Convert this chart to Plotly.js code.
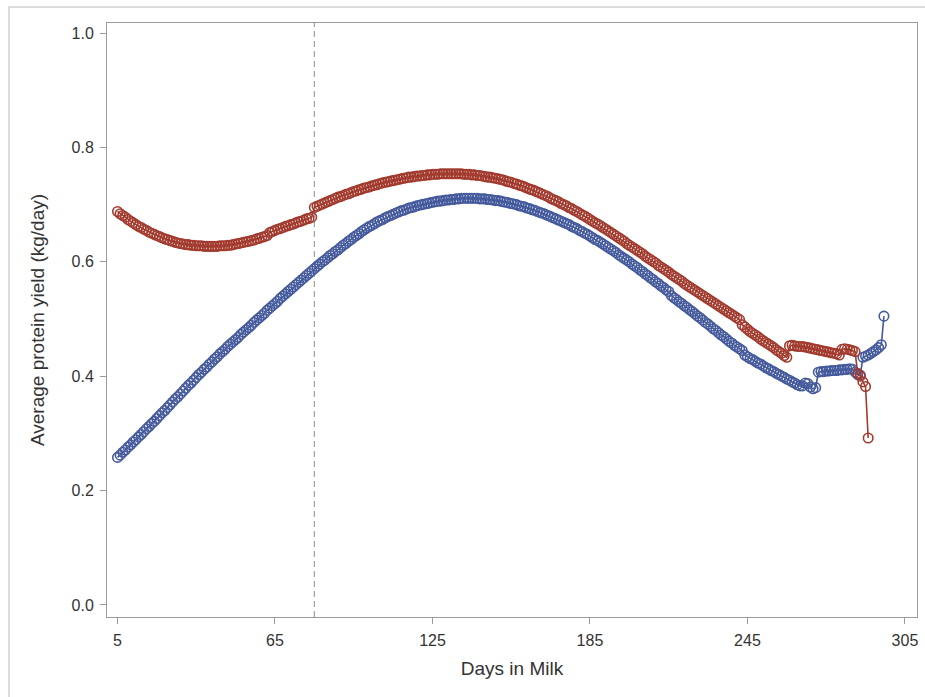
<!DOCTYPE html>
<html>
<head>
<meta charset="utf-8">
<script src="https://cdn.plot.ly/plotly-3.0.1.min.js"></script>
<style>
  html, body { margin: 0; padding: 0; background: #ffffff; }
  #frame {
    position: absolute; left: 8px; top: 6px;
    width: 1000px; height: 1000px;
    border: 2px solid #dcdcdc; box-sizing: border-box;
  }
  #chart { position: absolute; left: 0; top: 0; width: 925px; height: 697px; }
</style>
</head>
<body>
<div id="frame"></div>
<div id="chart"></div>
<script>
// Average protein yield per day in milk, two groups, one value per day.
const firstDayBlue = 5;
const blueYield = [
  0.258, 0.262, 0.267, 0.271, 0.276, 0.280,
  0.285, 0.289, 0.294, 0.298, 0.303,
  0.308, 0.312, 0.317, 0.321, 0.326,
  0.331, 0.336, 0.340, 0.345, 0.350,
  0.355, 0.360, 0.364, 0.369, 0.374,
  0.379, 0.384, 0.388, 0.393, 0.398,
  0.403, 0.407, 0.412, 0.416, 0.421,
  0.425, 0.430, 0.434, 0.439, 0.443,
  0.447, 0.452, 0.456, 0.460, 0.464,
  0.468, 0.473, 0.477, 0.481, 0.485,
  0.489, 0.494, 0.498, 0.502, 0.506,
  0.510, 0.515, 0.519, 0.523, 0.527,
  0.531, 0.536, 0.540, 0.544, 0.548,
  0.552, 0.556, 0.560, 0.564, 0.568,
  0.572, 0.576, 0.580, 0.584, 0.588,
  0.592, 0.596, 0.600, 0.603, 0.607,
  0.611, 0.614, 0.618, 0.621, 0.625,
  0.629, 0.632, 0.636, 0.639, 0.643,
  0.646, 0.649, 0.653, 0.656, 0.659,
  0.662, 0.664, 0.667, 0.670, 0.672,
  0.674, 0.677, 0.679, 0.681, 0.683,
  0.685, 0.687, 0.689, 0.690, 0.692,
  0.694, 0.695, 0.696, 0.698, 0.699,
  0.700, 0.701, 0.702, 0.703, 0.704,
  0.705, 0.706, 0.706, 0.707, 0.708,
  0.708, 0.709, 0.709, 0.710, 0.710,
  0.711, 0.711, 0.711, 0.711, 0.711,
  0.711, 0.711, 0.710, 0.710, 0.710,
  0.709, 0.709, 0.708, 0.707, 0.707,
  0.706, 0.705, 0.704, 0.703, 0.702,
  0.701, 0.700, 0.698, 0.697, 0.696,
  0.694, 0.693, 0.691, 0.690, 0.688,
  0.686, 0.685, 0.683, 0.681, 0.679,
  0.677, 0.675, 0.673, 0.671, 0.669,
  0.667, 0.665, 0.662, 0.660, 0.658,
  0.655, 0.653, 0.650, 0.648, 0.645,
  0.642, 0.639, 0.637, 0.634, 0.631,
  0.628, 0.625, 0.622, 0.619, 0.616,
  0.612, 0.609, 0.606, 0.603, 0.600,
  0.596, 0.593, 0.590, 0.586, 0.583,
  0.579, 0.576, 0.572, 0.569, 0.565,
  0.562, 0.558, 0.555, 0.551, 0.548,
  0.541, 0.537, 0.534, 0.530, 0.527,
  0.523, 0.520, 0.516, 0.513, 0.509,
  0.505, 0.502, 0.498, 0.494, 0.491,
  0.487, 0.483, 0.480, 0.476, 0.472,
  0.469, 0.465, 0.461, 0.458, 0.454,
  0.451, 0.448, 0.445, 0.437, 0.434,
  0.431, 0.429, 0.426, 0.423, 0.421,
  0.418, 0.415, 0.413, 0.410, 0.408,
  0.405, 0.403, 0.400, 0.398, 0.395,
  0.393, 0.390, 0.388, 0.385, 0.383,
  0.383, 0.388, 0.387, 0.381, 0.378, 0.380,
  0.407, 0.408, 0.408, 0.409, 0.409, 0.410, 0.410, 0.410, 0.411, 0.411,
  0.412, 0.412, 0.413, 0.412, 0.407, 0.403, 0.402,
  0.433, 0.435, 0.437, 0.440, 0.443, 0.446, 0.450, 0.455, 0.505
];

const firstDayRed = 5;
const redYield = [
  0.688, 0.684, 0.681, 0.678, 0.674, 0.671,
  0.668, 0.665, 0.662, 0.660, 0.657,
  0.655, 0.652, 0.650, 0.648, 0.646,
  0.644, 0.642, 0.640, 0.639, 0.637,
  0.636, 0.634, 0.633, 0.632, 0.631,
  0.630, 0.630, 0.629, 0.629, 0.628,
  0.628, 0.628, 0.627, 0.627, 0.627,
  0.627, 0.627, 0.627, 0.628, 0.628,
  0.628, 0.629, 0.629, 0.630, 0.631,
  0.632, 0.633, 0.634, 0.635, 0.636,
  0.637, 0.638, 0.640, 0.641, 0.643,
  0.644, 0.646, 0.651, 0.653, 0.655,
  0.657, 0.658, 0.660, 0.662, 0.663,
  0.665, 0.666, 0.668, 0.670, 0.671,
  0.673, 0.675, 0.676, 0.678, 0.695,
  0.697, 0.699, 0.701, 0.703, 0.705,
  0.707, 0.709, 0.711, 0.713, 0.714,
  0.716, 0.718, 0.719, 0.721, 0.723,
  0.724, 0.726, 0.727, 0.729, 0.730,
  0.731, 0.733, 0.734, 0.735, 0.737,
  0.738, 0.739, 0.740, 0.741, 0.742,
  0.743, 0.744, 0.745, 0.746, 0.747,
  0.748, 0.748, 0.749, 0.750, 0.750,
  0.751, 0.751, 0.752, 0.752, 0.753,
  0.753, 0.753, 0.754, 0.754, 0.754,
  0.754, 0.754, 0.754, 0.754, 0.754,
  0.754, 0.753, 0.753, 0.753, 0.752,
  0.752, 0.751, 0.751, 0.750, 0.749,
  0.748, 0.748, 0.747, 0.746, 0.745,
  0.744, 0.743, 0.741, 0.740, 0.739,
  0.737, 0.736, 0.734, 0.733, 0.731,
  0.729, 0.727, 0.726, 0.724, 0.722,
  0.720, 0.718, 0.716, 0.714, 0.711,
  0.709, 0.707, 0.705, 0.702, 0.700,
  0.698, 0.695, 0.693, 0.690, 0.688,
  0.685, 0.682, 0.680, 0.677, 0.674,
  0.671, 0.668, 0.666, 0.663, 0.660,
  0.657, 0.654, 0.651, 0.648, 0.645,
  0.642, 0.639, 0.636, 0.632, 0.629,
  0.626, 0.623, 0.620, 0.617, 0.614,
  0.610, 0.607, 0.604, 0.601, 0.598,
  0.594, 0.591, 0.588, 0.585, 0.582,
  0.578, 0.575, 0.572, 0.569, 0.566,
  0.562, 0.559, 0.556, 0.553, 0.550,
  0.547, 0.544, 0.541, 0.538, 0.535,
  0.532, 0.529, 0.526, 0.523, 0.520,
  0.517, 0.514, 0.511, 0.508, 0.505,
  0.502, 0.499, 0.490, 0.486, 0.482,
  0.478, 0.475, 0.472, 0.469, 0.465,
  0.462, 0.459, 0.456, 0.453, 0.450,
  0.446, 0.443, 0.440, 0.436, 0.433,
  0.453, 0.454, 0.453, 0.452, 0.452, 0.452, 0.451, 0.450, 0.449, 0.448,
  0.447, 0.446, 0.445, 0.444, 0.443, 0.442, 0.441, 0.440, 0.439, 0.437,
  0.447, 0.448, 0.447, 0.446, 0.445, 0.443,
  0.405, 0.400, 0.390, 0.382, 0.292
];

const xTickVals = [5, 65, 125, 185, 245, 305];
const yTickVals = [0, 0.2, 0.4, 0.6, 0.8, 1.0];
const yTickText = ['0.0', '0.2', '0.4', '0.6', '0.8', '1.0'];
const referenceDay = 80;

const blueDays = blueYield.map((_, i) => firstDayBlue + i);
const redDays = redYield.map((_, i) => firstDayRed + i);

const FONT = '"Liberation Sans", Arial, sans-serif';
const BLUE = '#445A9C';
const RED = '#A23A2E';

function series(days, vals, color) {
  return {
    x: days, y: vals, type: 'scatter', mode: 'lines+markers',
    line: { color: color, width: 1.6 },
    marker: { symbol: 'circle-open', size: 9.5, color: color, line: { width: 1.6, color: color } },
    showlegend: false, hoverinfo: 'x+y'
  };
}

const axisCommon = {
  showgrid: false, zeroline: false, showline: true, mirror: true,
  linecolor: '#9a9a9a', linewidth: 1,
  ticks: 'outside', ticklen: 6, tickcolor: '#9a9a9a', tickwidth: 1,
  ticklabelstandoff: 3,
  tickfont: { family: FONT, size: 16, color: '#333333' }
};

const layout = {
  width: 925, height: 697,
  margin: { l: 107, r: 8, t: 23, b: 80 },
  paper_bgcolor: 'rgba(0,0,0,0)', plot_bgcolor: '#ffffff',
  font: { family: FONT, color: '#333333' },
  xaxis: Object.assign({}, axisCommon, {
    range: [1.0, 309.6], tickvals: xTickVals, ticktext: xTickVals.map(String),
    title: { text: 'Days in Milk', font: { family: FONT, size: 19, color: '#333333' }, standoff: 13 }
  }),
  yaxis: Object.assign({}, axisCommon, {
    range: [-0.021, 1.0175], tickvals: yTickVals, ticktext: yTickText,
    title: { text: 'Average protein yield (kg/day)', font: { family: FONT, size: 19, color: '#333333' }, standoff: 21 }
  }),
  shapes: [{
    type: 'line', layer: 'below', xref: 'x', yref: 'paper',
    x0: referenceDay, x1: referenceDay, y0: 0, y1: 1,
    line: { color: '#a0a0a0', width: 1.2, dash: '6px,4px' }
  }]
};

Plotly.newPlot('chart', [series(blueDays, blueYield, BLUE), series(redDays, redYield, RED)], layout,
  { displayModeBar: false, staticPlot: true });
</script>
</body>
</html>
